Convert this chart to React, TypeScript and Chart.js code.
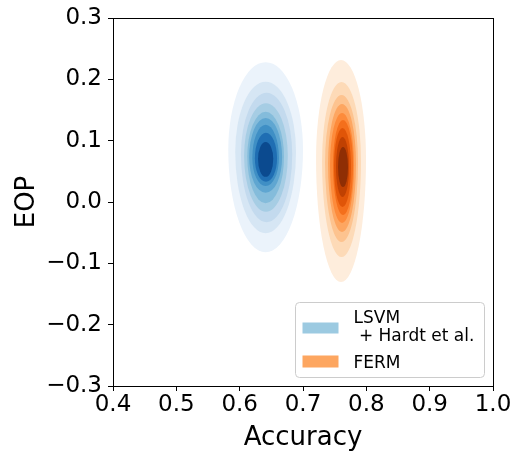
import React, { useEffect, useRef } from "react";
import { Chart, registerables } from "chart.js";

Chart.register(...registerables);

const xTicks = [0.4, 0.5, 0.6, 0.7, 0.8, 0.9, 1.0];
const yTicks = [-0.3, -0.2, -0.1, 0.0, 0.1, 0.2, 0.3];
const seriesNames = ["LSVM", " + Hardt et al.", "FERM"];
const legendColors = ["#9ccae1", "#fda660"];

// KDE contour levels, outer to inner (data units)
const blueLeft = [0.582, 0.593, 0.602, 0.607, 0.612, 0.615, 0.620, 0.624, 0.629];
const blueRight = [0.700, 0.689, 0.683, 0.676, 0.670, 0.667, 0.662, 0.659, 0.653];
const blueTop = [0.228, 0.196, 0.178, 0.161, 0.147, 0.137, 0.126, 0.113, 0.098];
const blueBottom = [-0.082, -0.051, -0.033, -0.016, -0.002, 0.015, 0.026, 0.033, 0.041];
const blueMid = [0.085, 0.082, 0.078, 0.076, 0.074, 0.073, 0.072, 0.071, 0.07];
const blueColors = ["#ebf3fb", "#d6e6f4", "#c3daee", "#a6cde4", "#84bcdb", "#5fa6d1", "#3f8fc5", "#1f6eb3", "#0b4a8f"];

const orangeLeft = [0.7206, 0.7301, 0.7348, 0.7395, 0.7427, 0.7474, 0.749, 0.7521, 0.7553];
const orangeRight = [0.7995, 0.7916, 0.7869, 0.7837, 0.7806, 0.779, 0.7758, 0.7727, 0.7711];
const orangeTop = [0.2315, 0.1957, 0.1745, 0.1598, 0.1451, 0.1337, 0.1206, 0.106, 0.0897];
const orangeBottom = [-0.1305, -0.0897, -0.0652, -0.0489, -0.0342, -0.0212, -0.0082, 0.0081, 0.0244];
const orangeMid = [0.07, 0.066, 0.064, 0.062, 0.06, 0.06, 0.058, 0.057, 0.057];
const orangeColors = ["#feeddc", "#fddab7", "#fdc38f", "#fda661", "#fd8b3b", "#f46f1c", "#e05508", "#c04102", "#8f2e04"];

const series = [
  { left: blueLeft, right: blueRight, top: blueTop, bottom: blueBottom, mid: blueMid, colors: blueColors },
  { left: orangeLeft, right: orangeRight, top: orangeTop, bottom: orangeBottom, mid: orangeMid, colors: orangeColors },
];

const FONT = "'DejaVu Sans', sans-serif";

const fmt = (v: number) => {
  if (Math.abs(v) < 1e-9) return "0.0";
  return Number(v).toFixed(1).replace("-", "\u2212");
};

const contourPlugin = {
  id: "contours",
  beforeDatasetsDraw(chart: any) {
    const { ctx, chartArea, scales } = chart;
    const x = scales.x;
    const y = scales.y;
    ctx.save();
    ctx.beginPath();
    ctx.rect(chartArea.left, chartArea.top, chartArea.right - chartArea.left, chartArea.bottom - chartArea.top);
    ctx.clip();
    for (const s of series) {
      for (let i = 0; i < s.colors.length; i++) {
        const xl = x.getPixelForValue(s.left[i]);
        const xr = x.getPixelForValue(s.right[i]);
        const yt = y.getPixelForValue(s.top[i]);
        const yb = y.getPixelForValue(s.bottom[i]);
        const ym = y.getPixelForValue(s.mid[i]);
        const xc = (xl + xr) / 2;
        const rx = (xr - xl) / 2;
        ctx.beginPath();
        ctx.ellipse(xc, ym, rx, Math.max(ym - yt, 0.5), 0, Math.PI, 2 * Math.PI);
        ctx.ellipse(xc, ym, rx, Math.max(yb - ym, 0.5), 0, 0, Math.PI);
        ctx.closePath();
        ctx.fillStyle = s.colors[i];
        ctx.fill();
      }
    }
    ctx.restore();
  },
  afterDraw(chart: any) {
    const { ctx, chartArea } = chart;
    ctx.save();
    // frame
    ctx.strokeStyle = "#000";
    ctx.lineWidth = 1;
    const l = Math.round(chartArea.left) + 0.5;
    const t = Math.round(chartArea.top) + 0.5;
    const rr = Math.round(chartArea.right) + 0.5;
    const b = Math.round(chartArea.bottom) + 0.5;
    ctx.strokeRect(l, t, rr - l, b - t);
    // legend
    const w = 189;
    const h = 75;
    const bx = Math.round(chartArea.right - 9 - w) + 0.5;
    const by = Math.round(chartArea.bottom - 9 - h) + 0.5;
    const r = 4;
    ctx.beginPath();
    ctx.moveTo(bx + r, by);
    ctx.lineTo(bx + w - r, by);
    ctx.arcTo(bx + w, by, bx + w, by + r, r);
    ctx.lineTo(bx + w, by + h - r);
    ctx.arcTo(bx + w, by + h, bx + w - r, by + h, r);
    ctx.lineTo(bx + r, by + h);
    ctx.arcTo(bx, by + h, bx, by + h - r, r);
    ctx.lineTo(bx, by + r);
    ctx.arcTo(bx, by, bx + r, by, r);
    ctx.closePath();
    ctx.fillStyle = "rgba(255,255,255,0.8)";
    ctx.fill();
    ctx.strokeStyle = "#cccccc";
    ctx.stroke();
    ctx.fillStyle = legendColors[0];
    ctx.fillRect(bx + 7, by + 20, 36, 11);
    ctx.fillStyle = legendColors[1];
    ctx.fillRect(bx + 7, by + 53, 36, 12);
    ctx.fillStyle = "#000";
    ctx.font = `17px ${FONT}`;
    ctx.textBaseline = "alphabetic";
    ctx.textAlign = "left";
    ctx.fillText(seriesNames[0], bx + 58, by + 20);
    ctx.fillText(seriesNames[1], bx + 58, by + 38);
    ctx.fillText(seriesNames[2], bx + 58, by + 65);
    ctx.restore();
  },
};

export default function App() {
  const ref = useRef<HTMLCanvasElement | null>(null);
  useEffect(() => {
    if (!ref.current) return;
    const tickFont = { family: FONT, size: 23, lineHeight: 1 };
    const chart = new Chart(ref.current, {
      type: "scatter",
      data: {
        datasets: [
          { label: "LSVM + Hardt et al.", data: [], pointRadius: 0 },
          { label: "FERM", data: [], pointRadius: 0 },
        ],
      },
      options: {
        animation: false,
        responsive: false,
        layout: { padding: { top: 18, right: 21, left: 0, bottom: 0 } },
        plugins: { legend: { display: false }, tooltip: { enabled: false } },
        scales: {
          x: {
            type: "linear",
            min: 0.4,
            max: 1.0,
            afterBuildTicks: (s: any) => {
              s.ticks = xTicks.map((v) => ({ value: v }));
            },
            afterFit: (s: any) => {
              s.height = 70;
              s.paddingLeft = 0;
              s.paddingRight = 0;
            },
            ticks: {
              font: tickFont,
              color: "#000",
              padding: 3,
              maxRotation: 0,
              autoSkip: false,
              callback: (v: any) => fmt(Number(v)),
            },
            grid: { display: true, drawOnChartArea: false, tickLength: 5, color: "#000", lineWidth: 1 },
            border: { display: false },
            title: {
              display: true,
              text: "Accuracy",
              color: "#000",
              font: { family: FONT, size: 26 },
              padding: { top: 0, bottom: 2 },
            },
          },
          y: {
            type: "linear",
            min: -0.3,
            max: 0.3,
            afterBuildTicks: (s: any) => {
              s.ticks = yTicks.map((v) => ({ value: v }));
            },
            afterFit: (s: any) => {
              s.width = 113;
              s.paddingTop = 0;
              s.paddingBottom = 0;
            },
            ticks: {
              font: tickFont,
              color: "#000",
              padding: 6,
              autoSkip: false,
              callback: (v: any) => fmt(Number(v)),
            },
            grid: { display: true, drawOnChartArea: false, tickLength: 5, color: "#000", lineWidth: 1 },
            border: { display: false },
            title: {
              display: true,
              text: "EOP",
              color: "#000",
              font: { family: FONT, size: 26 },
              padding: { top: 12, bottom: 0 },
            },
          },
        },
      },
      plugins: [contourPlugin],
    });
    return () => chart.destroy();
  }, []);
  return (
    <div style={{ position: "absolute", left: 0, top: 0, width: 514, height: 456 }}>
      <canvas ref={ref} width={514} height={456} />
    </div>
  );
}
